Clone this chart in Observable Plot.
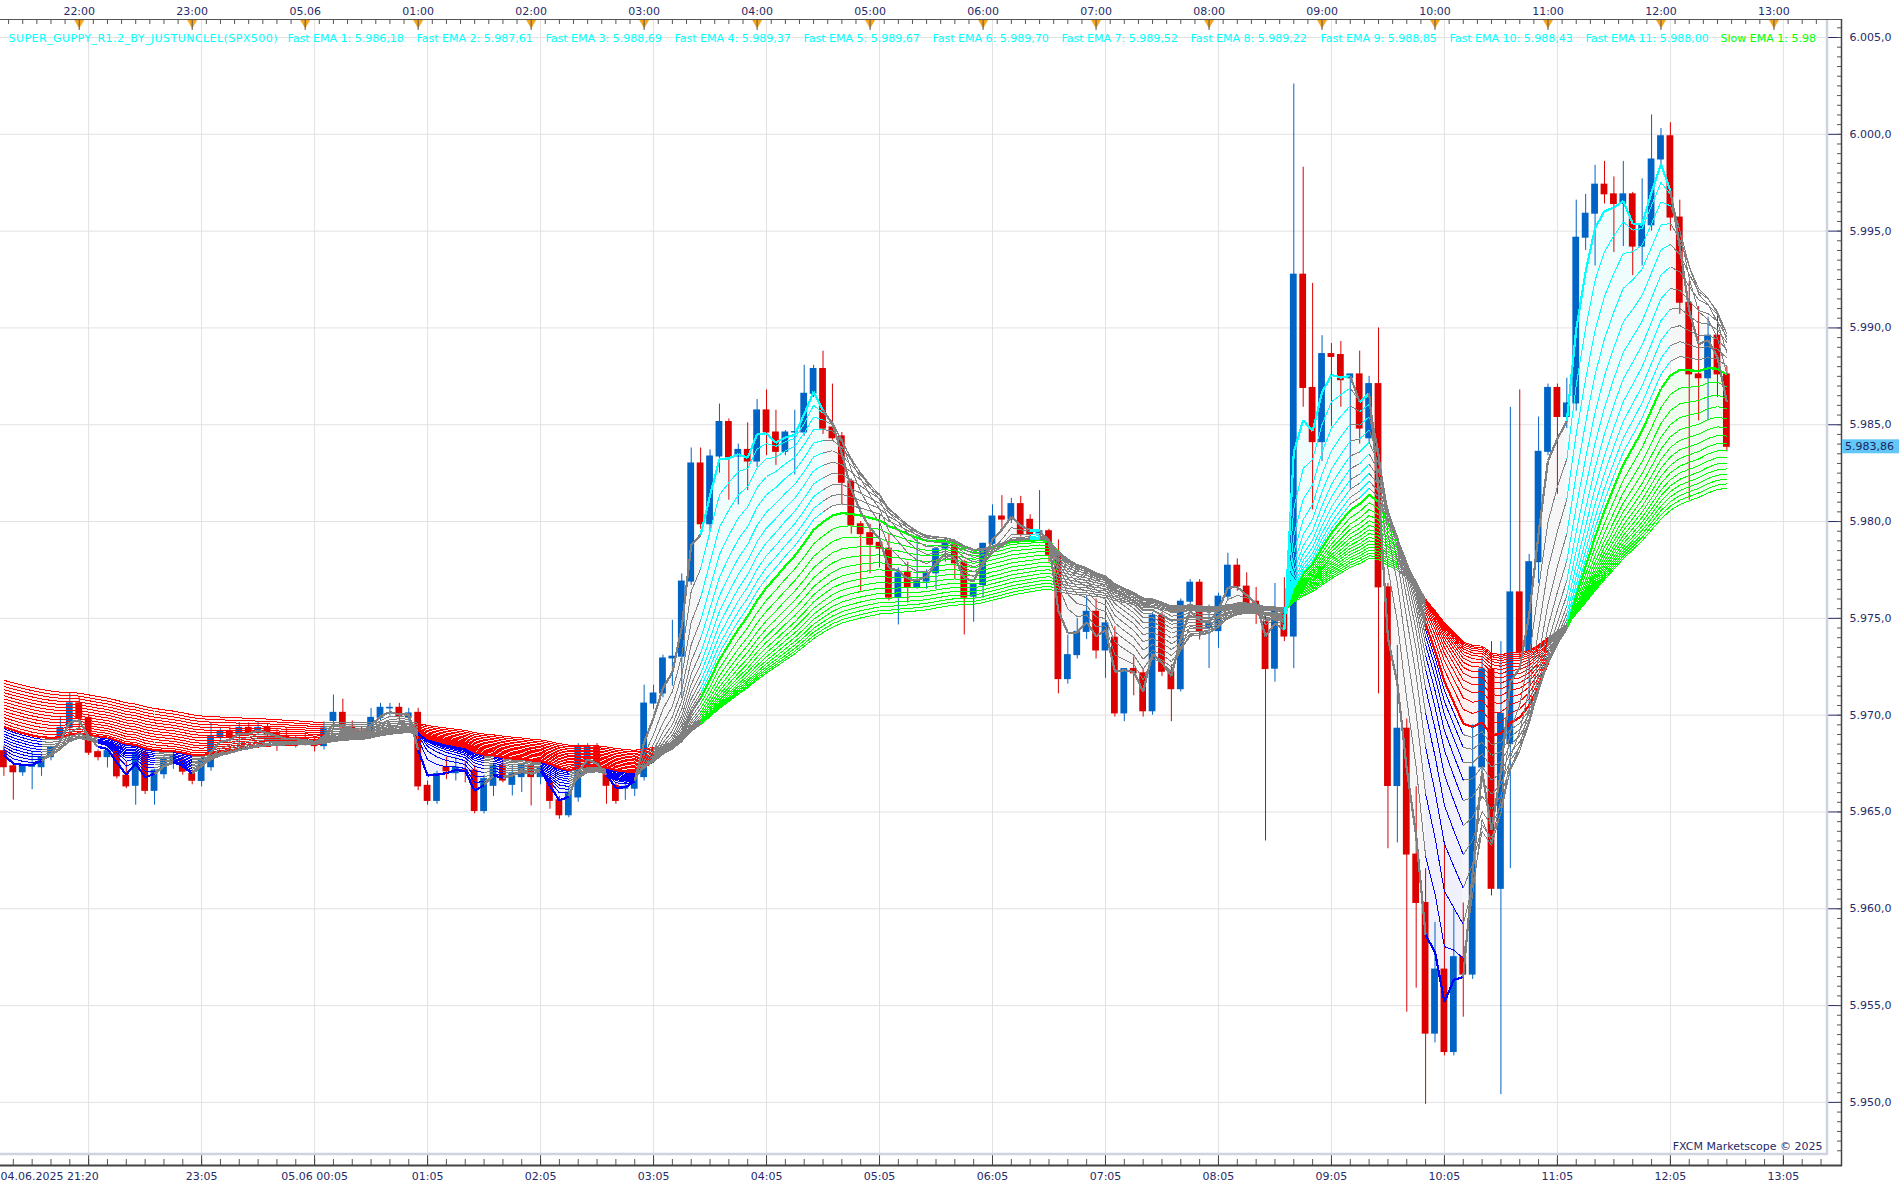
<!DOCTYPE html>
<html>
<head>
<meta charset="utf-8">
<script src="https://cdn.jsdelivr.net/npm/d3@7"></script>
<script src="https://cdn.jsdelivr.net/npm/@observablehq/plot@0.6"></script>
<style>
  html, body { margin: 0; padding: 0; background: #ffffff; }
  #chart { width: 1899px; height: 1192px; overflow: hidden; }
  #chart svg { font-family: "DejaVu Sans", sans-serif; }
</style>
</head>
<body>
<div id="chart"></div>
<script>
// ---------- DATA (5-minute candles, SPX500, 04.06.2025 21:20 → 05.06.2025 12:35) ----------
const opens = [
  5968.14, 5967.36, 5967.05, 5967.33, 5967.31, 5967.83, 5968.78, 5969.34, 5970.61, 5969.86,
  5968.09, 5967.83, 5968.14, 5966.87, 5966.35, 5968.06, 5966.09, 5966.95, 5967.50, 5967.66,
  5966.96, 5966.60, 5967.31, 5968.87, 5969.13, 5968.96, 5969.34, 5969.13, 5969.34, 5969.08,
  5968.90, 5968.60, 5968.75, 5968.60, 5968.40, 5969.70, 5970.12, 5969.40, 5969.20, 5969.00,
  5969.86, 5970.35, 5970.38, 5969.86, 5970.12, 5966.35, 5965.57, 5967.30, 5967.00, 5967.15,
  5967.14, 5965.05, 5966.35, 5967.40, 5966.40, 5966.80, 5967.40, 5966.80, 5966.52, 5965.60,
  5964.83, 5965.75, 5967.20, 5968.35, 5966.90, 5966.35, 5966.20, 5966.20, 5966.80, 5970.60,
  5971.12, 5972.93, 5973.02, 5976.90, 5983.00, 5979.86, 5983.36, 5985.14, 5983.36, 5983.70,
  5983.10, 5985.74, 5984.60, 5983.60, 5984.60, 5984.60, 5986.60, 5987.88, 5984.86, 5984.40,
  5982.07, 5979.86, 5979.40, 5978.90, 5978.60, 5976.07, 5977.40, 5976.60, 5976.90, 5977.33,
  5978.60, 5978.76, 5977.90, 5976.12, 5976.72, 5978.85, 5980.26, 5980.10, 5980.90, 5980.09,
  5979.34, 5979.50, 5978.28, 5971.86, 5973.10, 5974.30, 5975.34, 5973.34, 5974.00, 5970.09,
  5972.38, 5972.16, 5970.20, 5975.14, 5972.24, 5971.34, 5975.86, 5976.84, 5974.50, 5974.34,
  5976.12, 5977.72, 5976.64, 5975.86, 5974.80, 5972.40, 5975.40, 5974.06, 5992.75, 5986.90,
  5984.10, 5988.65, 5988.60, 5987.40, 5987.60, 5984.30, 5987.10, 5976.60, 5966.34, 5969.30,
  5962.80, 5960.30, 5953.55, 5956.86, 5952.60, 5957.50, 5956.60, 5967.30, 5972.36, 5961.03,
  5968.50, 5976.34, 5973.30, 5977.90, 5983.60, 5986.90, 5985.40, 5986.10, 5994.66, 5995.90,
  5997.40, 5996.90, 5996.40, 5996.90, 5994.20, 5995.30, 5998.70, 5999.90, 5995.70, 5991.30,
  5987.60, 5987.40, 5989.60, 5987.60
];
const highs = [
  5968.40, 5967.50, 5967.45, 5968.09, 5967.95, 5968.40, 5969.88, 5971.13, 5970.90, 5970.05,
  5968.20, 5968.30, 5968.45, 5967.57, 5968.20, 5968.20, 5967.20, 5967.90, 5968.10, 5967.90,
  5967.10, 5967.90, 5969.57, 5969.30, 5969.39, 5969.62, 5969.60, 5969.65, 5969.55, 5969.25,
  5969.30, 5968.90, 5969.00, 5968.80, 5969.65, 5971.04, 5970.83, 5969.70, 5969.40, 5970.35,
  5970.61, 5970.61, 5970.61, 5970.35, 5970.35, 5966.60, 5967.10, 5967.83, 5967.83, 5967.60,
  5967.40, 5966.90, 5967.50, 5967.83, 5967.40, 5967.40, 5967.57, 5967.50, 5966.90, 5965.80,
  5966.30, 5968.53, 5968.53, 5968.53, 5967.20, 5966.50, 5966.60, 5967.00, 5971.55, 5971.55,
  5973.10, 5974.90, 5977.30, 5983.80, 5983.80, 5983.70, 5986.07, 5985.30, 5984.00, 5985.10,
  5986.30, 5986.80, 5985.75, 5984.70, 5985.75, 5988.07, 5988.07, 5988.80, 5987.10, 5984.60,
  5982.20, 5980.00, 5979.86, 5980.40, 5979.35, 5977.60, 5977.90, 5979.10, 5977.50, 5978.60,
  5979.05, 5979.00, 5978.00, 5976.72, 5978.88, 5980.86, 5981.34, 5981.20, 5981.30, 5980.35,
  5981.60, 5979.60, 5979.05, 5974.14, 5975.00, 5976.20, 5976.00, 5976.00, 5974.57, 5972.40,
  5973.00, 5972.40, 5975.30, 5975.30, 5972.60, 5976.00, 5977.00, 5977.00, 5975.69, 5976.30,
  5978.36, 5978.07, 5977.35, 5976.60, 5975.10, 5976.80, 5977.10, 6002.60, 5998.30, 5992.30,
  5989.60, 5989.20, 5989.30, 5987.60, 5988.80, 5987.50, 5990.00, 5976.80, 5973.60, 5969.80,
  5966.30, 5962.07, 5959.30, 5963.40, 5960.00, 5960.30, 5969.50, 5973.00, 5973.80, 5973.80,
  5985.90, 5986.80, 5978.30, 5985.40, 5987.10, 5987.10, 5987.40, 5996.60, 5996.90, 5998.40,
  5998.60, 5997.80, 5998.60, 5997.00, 5997.70, 6001.00, 6000.30, 6000.60, 5996.60, 5992.40,
  5991.10, 5990.55, 5990.70, 5988.00
];
const lows = [
  5966.84, 5965.61, 5966.84, 5966.15, 5966.84, 5967.64, 5968.60, 5969.10, 5969.31, 5967.92,
  5967.64, 5967.27, 5966.70, 5966.20, 5965.35, 5965.90, 5965.35, 5966.70, 5967.20, 5966.90,
  5966.40, 5966.30, 5967.10, 5968.70, 5968.60, 5968.26, 5968.90, 5968.95, 5968.70, 5968.13,
  5968.40, 5968.30, 5968.40, 5968.10, 5968.20, 5969.30, 5969.20, 5969.00, 5968.70, 5968.80,
  5969.70, 5969.95, 5969.60, 5969.70, 5966.10, 5965.35, 5965.40, 5966.67, 5966.60, 5966.50,
  5964.90, 5964.90, 5965.80, 5966.50, 5965.83, 5966.00, 5965.31, 5966.40, 5965.14, 5964.62,
  5964.70, 5965.50, 5967.00, 5967.10, 5965.40, 5965.40, 5965.60, 5965.80, 5966.60, 5970.30,
  5970.90, 5971.50, 5970.86, 5976.70, 5979.60, 5979.50, 5982.50, 5981.10, 5980.86, 5981.60,
  5982.80, 5983.40, 5982.90, 5983.40, 5982.40, 5984.40, 5986.40, 5984.50, 5984.20, 5980.86,
  5979.35, 5976.40, 5977.30, 5977.60, 5975.90, 5974.66, 5975.80, 5976.50, 5976.50, 5976.50,
  5977.90, 5977.00, 5974.14, 5974.80, 5976.03, 5978.70, 5979.66, 5979.90, 5979.20, 5979.10,
  5979.10, 5977.90, 5971.10, 5971.60, 5972.90, 5973.90, 5972.90, 5971.90, 5969.90, 5969.66,
  5971.00, 5969.90, 5970.00, 5972.00, 5969.66, 5971.20, 5975.60, 5973.88, 5972.41, 5973.45,
  5975.90, 5976.40, 5975.60, 5974.69, 5963.50, 5971.70, 5973.80, 5972.40, 5985.90, 5980.60,
  5983.10, 5984.90, 5985.90, 5981.70, 5984.00, 5984.00, 5971.10, 5963.10, 5963.40, 5954.66,
  5955.90, 5949.90, 5953.07, 5952.40, 5952.40, 5954.40, 5956.35, 5966.50, 5960.66, 5950.40,
  5962.07, 5972.90, 5970.10, 5976.80, 5983.40, 5981.40, 5984.80, 5985.70, 5994.00, 5993.20,
  5996.40, 5993.90, 5994.20, 5992.70, 5993.20, 5995.00, 5998.40, 5995.00, 5990.70, 5981.10,
  5985.20, 5985.20, 5986.40, 5983.60
];
const closes = [
  5967.31, 5967.05, 5967.36, 5967.43, 5967.83, 5968.35, 5969.34, 5970.61, 5969.83, 5968.06,
  5967.83, 5968.14, 5966.84, 5966.32, 5968.06, 5966.09, 5967.14, 5967.74, 5967.90, 5967.08,
  5966.61, 5967.74, 5968.87, 5969.13, 5968.82, 5969.34, 5969.06, 5969.34, 5968.96, 5968.78,
  5968.60, 5968.75, 5968.60, 5968.40, 5969.31, 5970.12, 5969.36, 5969.20, 5968.90, 5969.86,
  5970.38, 5970.38, 5969.91, 5970.09, 5966.32, 5965.57, 5966.96, 5967.10, 5967.30, 5967.10,
  5965.05, 5966.70, 5967.40, 5966.62, 5967.00, 5967.40, 5966.80, 5967.30, 5965.57, 5964.83,
  5966.00, 5968.35, 5968.35, 5967.30, 5966.35, 5965.57, 5966.30, 5966.90, 5970.60, 5971.12,
  5972.93, 5973.02, 5976.90, 5983.00, 5979.86, 5983.36, 5985.14, 5983.28, 5983.70, 5983.10,
  5985.74, 5984.60, 5983.60, 5984.60, 5984.62, 5986.60, 5987.88, 5984.80, 5984.30, 5982.00,
  5979.80, 5979.35, 5978.80, 5978.60, 5976.07, 5977.33, 5976.60, 5976.90, 5977.33, 5978.57,
  5978.85, 5977.84, 5976.07, 5976.72, 5978.85, 5980.26, 5980.10, 5980.90, 5979.34, 5979.34,
  5979.50, 5978.28, 5971.86, 5973.10, 5974.30, 5975.34, 5973.34, 5974.74, 5970.09, 5972.38,
  5972.16, 5970.20, 5975.14, 5972.24, 5971.34, 5975.86, 5976.84, 5974.34, 5974.70, 5976.12,
  5977.72, 5976.64, 5975.78, 5975.34, 5972.38, 5975.40, 5974.06, 5992.75, 5986.90, 5984.10,
  5988.65, 5988.50, 5987.30, 5987.60, 5984.80, 5987.10, 5976.60, 5966.34, 5969.30, 5962.80,
  5960.30, 5953.55, 5956.86, 5952.60, 5957.50, 5956.60, 5967.30, 5972.36, 5961.03, 5970.07,
  5976.34, 5973.20, 5977.90, 5983.60, 5986.90, 5985.40, 5986.10, 5994.66, 5995.90, 5997.40,
  5996.90, 5996.40, 5996.90, 5994.20, 5995.30, 5998.70, 5999.90, 5995.70, 5991.30, 5987.60,
  5987.40, 5989.60, 5987.60, 5983.86
];

// Super Guppy EMA periods and their values at the first candle (read from the left edge)
const fastPeriods = [3, 5, 7, 9, 11, 13, 15, 17, 19, 21, 23];
const slowPeriods = [25, 28, 31, 34, 37, 40, 43, 46, 49, 52, 55, 58, 61, 64, 67, 70];
const fastStart = [5967.95, 5968.09, 5968.22, 5968.36, 5968.49, 5968.63, 5968.76, 5968.90, 5969.03, 5969.17, 5969.30];
const slowStart = [5969.40, 5969.56, 5969.72, 5969.88, 5970.04, 5970.20, 5970.36, 5970.52, 5970.68, 5970.84, 5971.00, 5971.16, 5971.32, 5971.48, 5971.64, 5971.80];

// Tick labels
const topTickIdx = [8, 20, 32, 44, 56, 68, 80, 92, 104, 116, 128, 140, 152, 164, 176, 188];
const topTickLabels = ["22:00", "23:00", "05.06", "01:00", "02:00", "03:00", "04:00", "05:00", "06:00", "07:00", "08:00", "09:00", "10:00", "11:00", "12:00", "13:00"];
const gridIdx = [9, 21, 33, 45, 57, 69, 81, 93, 105, 117, 129, 141, 153, 165, 177, 189];
const bottomTickIdx = [21, 33, 45, 57, 69, 81, 93, 105, 117, 129, 141, 153, 165, 177, 189];
const bottomTickLabels = ["23:05", "05.06 00:05", "01:05", "02:05", "03:05", "04:05", "05:05", "06:05", "07:05", "08:05", "09:05", "10:05", "11:05", "12:05", "13:05"];
const firstTimeLabel = "04.06.2025 21:20";
const yMajorTicks = [5950, 5955, 5960, 5965, 5970, 5975, 5980, 5985, 5990, 5995, 6000, 6005];

// Legend (indicator readout)
const legendTitle = "SUPER_GUPPY_R1.2_BY_JUSTUNCLEL(SPX500)";
const legendNames = ["Fast EMA 1", "Fast EMA 2", "Fast EMA 3", "Fast EMA 4", "Fast EMA 5", "Fast EMA 6", "Fast EMA 7", "Fast EMA 8", "Fast EMA 9", "Fast EMA 10", "Fast EMA 11"];
const legendValues = [5986.18, 5987.61, 5988.69, 5989.37, 5989.67, 5989.70, 5989.52, 5989.22, 5988.85, 5988.43, 5988.00];
const legendSlow = "Slow EMA 1: 5.98";
const lastPrice = 5983.86;

// ---------- LAYOUT / STYLE ----------
const W = 1899, H = 1192;
const M = {left: 0, right: 73, top: 19, bottom: 39};
const BLUE = "#0063c6", RED = "#dc0000";
const AXIS_TXT = "#262a6a";
const legendDx = [8, 287, 416, 545, 674, 803, 932, 1061, 1190, 1320, 1449, 1585, 1720];

const de = d3.formatLocale({decimal: ",", thousands: ".", grouping: [3], currency: ["", ""]});
const fmt1 = de.format(",.1f");
const fmt2 = de.format(",.2f");

// ---------- DERIVED ----------
const n = closes.length;
const candles = closes.map((c, i) => ({
  i, open: opens[i], high: highs[i], low: lows[i], close: c,
  col: c >= opens[i] ? BLUE : RED
}));

function emaSeries(period, start) {
  const a = 2 / (period + 1);
  const out = [start];
  for (let i = 1; i < n; i++) out.push(a * closes[i] + (1 - a) * out[i - 1]);
  return out;
}
const fast = fastPeriods.map((p, k) => emaSeries(p, fastStart[k]));
const slow = slowPeriods.map((p, k) => emaSeries(p, slowStart[k]));

function trendState(lines, i) {
  let up = true, dn = true;
  for (let k = 1; k < lines.length; k++) {
    if (!(lines[k - 1][i] > lines[k][i])) up = false;
    if (!(lines[k - 1][i] < lines[k][i])) dn = false;
  }
  return up ? 1 : dn ? -1 : 0;
}
const idx = d3.range(n);
const slowState = idx.map(i => trendState(slow, i));
// fast ribbon takes its trend colour only when the slow ribbon agrees (Super Guppy rule)
const fastState = idx.map(i => {
  const f = trendState(fast, i), s = slowState[i];
  return f === 1 && s === 1 ? 1 : f === -1 && s === -1 ? -1 : 0;
});

const fastLine = {"1": "#00ffff", "-1": "#0000ff", "0": "#808080"};
const slowLine = {"1": "#00ff00", "-1": "#ff0000", "0": "#808080"};
const fastFill = {"1": "#effdfd", "-1": "#f0f0fd", "0": "#f6f6f6"};
const slowFill = {"1": "#effdef", "-1": "#fff0f0", "0": "#f6f6f6"};

function segments(lines, states, pal) {
  const out = [];
  lines.forEach((e, k) => {
    for (let i = 1; i < n; i++) {
      out.push({k, x1: i - 1, x2: i, y1: e[i - 1], y2: e[i], c: pal[states[i]]});
    }
  });
  return out;
}
function bandRuns(lo, hi, states, pal) {
  const pts = [];
  let run = 0;
  for (let i = 1; i < n; i++) {
    const c = pal[states[i]];
    const prev = i > 1 ? pal[states[i - 1]] : null;
    if (i > 1 && c !== prev) run++;
    if (i === 1 || c !== prev) pts.push({x: i - 1, lo: lo[i - 1], hi: hi[i - 1], run, c});
    pts.push({x: i, lo: lo[i], hi: hi[i], run, c});
  }
  return pts;
}
const fastSegs = segments(fast, fastState, fastLine);
const slowSegs = segments(slow, slowState, slowLine);
const fastBand = bandRuns(fast[0], fast[fast.length - 1], fastState, fastFill);
const slowBand = bandRuns(slow[0], slow[slow.length - 1], slowState, slowFill);

const yMinorTicks = d3.range(5947.5, 6005.6, 0.5);
const topMinorTicks = d3.range(0.5, 194, 1.5);
const bottomMinorTicks = d3.range(1, 194, 2);

// ---------- PLOT ----------
const legendItems = [legendTitle, ...legendNames.map((nm, k) => `${nm}: ${fmt2(legendValues[k])}`), legendSlow];
const legendColors = legendItems.map((_, k) => k === legendItems.length - 1 ? "#00ff00" : "#00ffff");
const linkOpts = {x1: "x1", y1: "y1", x2: "x2", y2: "y2", stroke: "c", shapeRendering: "crispEdges"};

const plot = Plot.plot({
  width: W, height: H,
  marginLeft: M.left, marginRight: M.right, marginTop: M.top, marginBottom: M.bottom,
  x: {domain: [-0.361, 193.58], axis: null},
  y: {domain: [5947.36, 6005.93], axis: null},
  color: {type: "identity"},
  style: {fontFamily: "DejaVu Sans, sans-serif", fontSize: "11px", background: "#ffffff", overflow: "visible"},
  marks: [
    Plot.gridY(yMajorTicks, {stroke: "#e2e2e2", strokeOpacity: 1, strokeWidth: 1}),
    Plot.gridX(gridIdx, {stroke: "#e2e2e2", strokeOpacity: 1, strokeWidth: 1}),

    // guppy band fills
    Plot.areaY(slowBand, {x: "x", y1: "lo", y2: "hi", z: "run", fill: "c"}),
    Plot.areaY(fastBand, {x: "x", y1: "lo", y2: "hi", z: "run", fill: "c"}),

    // candles
    Plot.ruleX(candles, {x: "i", y1: "low", y2: "high", stroke: "col", strokeWidth: 1}),
    Plot.rect(candles, {x1: d => d.i - 0.36, x2: d => d.i + 0.36, y1: "open", y2: "close", fill: "col", insetTop: -0.5, insetBottom: -0.5}),

    // slow EMAs
    Plot.link(slowSegs.filter(d => d.k > 0), {...linkOpts, strokeWidth: 1}),
    Plot.link(slowSegs.filter(d => d.k === 0), {...linkOpts, strokeWidth: 2.2}),
    // fast EMAs
    Plot.link(fastSegs.filter(d => d.k > 0), {...linkOpts, strokeWidth: 1}),
    Plot.link(fastSegs.filter(d => d.k === 0), {...linkOpts, strokeWidth: 2.2}),

    // right price axis
    Plot.axisY(yMajorTicks, {anchor: "right", tickSize: 15, tickPadding: 8, tickFormat: fmt1, fontSize: 11, color: AXIS_TXT, label: null}),
    Plot.axisY(yMinorTicks, {anchor: "right", dx: 10, tickSize: 5, tickFormat: () => "", color: "#555", label: null}),

    // top time axis
    Plot.axisX(topMinorTicks, {anchor: "top", dy: 4, tickSize: 4, tickFormat: () => "", color: "#555", label: null}),
    Plot.dot(topTickIdx, {x: d => d, frameAnchor: "top", dy: 3.2, symbol: "triangle", rotate: 180, r: 3.8, fill: "#f7a51d", stroke: "none"}),
    Plot.axisX(topTickIdx, {anchor: "top", dy: 10, tickSize: 10, tickFormat: () => "", color: "#555", label: null}),
    Plot.axisX(topTickIdx, {anchor: "top", tickSize: 0, tickPadding: 5, tickFormat: d => topTickLabels[topTickIdx.indexOf(d)], fontSize: 11, color: AXIS_TXT, label: null}),

    // bottom time axis
    Plot.axisX(bottomMinorTicks, {anchor: "bottom", dy: 6, tickSize: 6, tickFormat: () => "", color: "#555", label: null}),
    Plot.axisX(gridIdx, {anchor: "bottom", tickSize: 12, tickFormat: () => "", color: "#444", label: null}),
    Plot.axisX(bottomTickIdx, {anchor: "bottom", tickSize: 0, tickPadding: 19, tickFormat: d => bottomTickLabels[bottomTickIdx.indexOf(d)], fontSize: 11, color: AXIS_TXT, label: null}),
    Plot.text([firstTimeLabel], {frameAnchor: "bottom-left", dx: 0, dy: 19, textAnchor: "start", lineAnchor: "top", fontSize: 11, fill: AXIS_TXT}),

    // legend readout
    ...legendItems.map((t, k) => Plot.text([t], {frameAnchor: "top-left", dx: legendDx[k], dy: 19, textAnchor: "start", lineAnchor: "middle", fontSize: 11, fill: legendColors[k]})),

    // watermark
    Plot.text(["FXCM Marketscope © 2025"], {frameAnchor: "bottom-right", dx: -4, dy: -7, textAnchor: "end", lineAnchor: "middle", fontSize: 11, fill: AXIS_TXT})
  ]
});

// ---------- frame decorations ----------
const svg = d3.select(plot);
const plotRight = W - M.right, plotBottom = H - M.bottom;
svg.selectAll("text").filter(function () { return this.textContent === legendTitle; })
  .attr("letter-spacing", "0.45px");
// inner frame (light)
svg.append("line").attr("x1", plotRight + 1).attr("x2", plotRight + 1).attr("y1", M.top).attr("y2", plotBottom + 1)
  .attr("stroke", "#cdd4dd").attr("stroke-width", 2.5);
svg.append("line").attr("x1", 0).attr("x2", plotRight + 2).attr("y1", plotBottom + 1).attr("y2", plotBottom + 1)
  .attr("stroke", "#cdd4dd").attr("stroke-width", 2.5);
// axis lines
svg.append("line").attr("x1", 0).attr("x2", plotRight + 16).attr("y1", M.top + 0.5).attr("y2", M.top + 0.5)
  .attr("stroke", "#555").attr("stroke-width", 1);
svg.append("line").attr("x1", 0).attr("x2", plotRight + 16).attr("y1", plotBottom + 12.5).attr("y2", plotBottom + 12.5)
  .attr("stroke", "#444").attr("stroke-width", 2);
svg.append("line").attr("x1", plotRight + 15.5).attr("x2", plotRight + 15.5).attr("y1", M.top).attr("y2", plotBottom + 13)
  .attr("stroke", "#444").attr("stroke-width", 1.5);
// last price tag
const yScale = plot.scale("y");
const yp = yScale.apply(lastPrice);
svg.append("rect").attr("x", plotRight + 16).attr("y", yp - 7).attr("width", W - plotRight - 16).attr("height", 14)
  .attr("fill", "#62c6f7");
svg.append("text").attr("x", plotRight + 19).attr("y", yp).attr("dy", "0.35em")
  .attr("text-anchor", "start").attr("font-size", 11).attr("fill", "#1c2560").text(fmt2(lastPrice));

document.getElementById("chart").appendChild(plot);
</script>
</body>
</html>
